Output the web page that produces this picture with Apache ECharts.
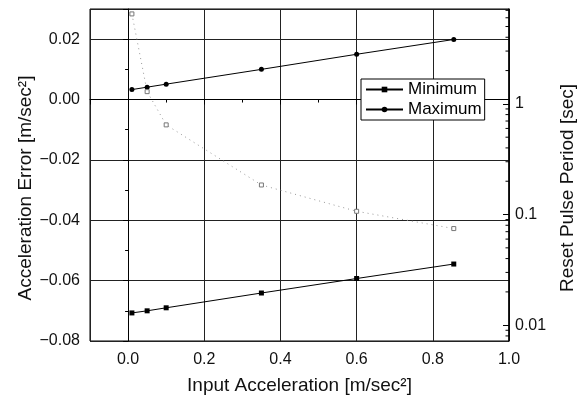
<!DOCTYPE html>
<html>
<head>
<meta charset="utf-8">
<script src="https://cdn.jsdelivr.net/npm/echarts@6/dist/echarts.min.js"></script>
<style>
html,body{margin:0;padding:0;background:#fff;}
#c{width:584px;height:397px;}
</style>
</head>
<body>
<div id="c"></div>
<script>
// Data
var accel = [0.01, 0.05, 0.1, 0.35, 0.6, 0.855];
var minErr = [-0.0707, -0.0700, -0.0690, -0.0641, -0.0593, -0.0545];
var maxErr = [0.0033, 0.0041, 0.0051, 0.0100, 0.0150, 0.0199];
var resetPeriod = [6.5, 1.29, 0.646, 0.185, 0.107, 0.0747];
var seriesNames = ['Minimum', 'Maximum'];
var xName = 'Input Acceleration [m/sec²]';
var yName = 'Acceleration Error [m/sec²]';
var y2Name = 'Reset Pulse Period [sec]';
var logMin = 0.0072, logMax = 7.2;

function pairs(xs, ys) { return xs.map(function (x, i) { return [x, ys[i]]; }); }

var FONT = 'Liberation Sans, Arial, Helvetica, sans-serif';
var chart = echarts.init(document.getElementById('c'), null, {renderer: 'canvas'});
chart.setOption({
  animation: false,
  backgroundColor: '#fff',
  textStyle: {fontFamily: FONT},
  grid: {left: 90, right: 75, top: 9, bottom: 56, containLabel: false, outerBoundsMode: 'none',
    show: true, borderColor: '#000', borderWidth: 1},
  legend: {
    data: seriesNames,
    orient: 'vertical',
    left: 361, top: 79,
    borderColor: '#000', borderWidth: 1, borderRadius: 0,
    backgroundColor: '#fff',
    padding: [1, 3, 1, 4],
    itemGap: 1,
    itemWidth: 37, itemHeight: 7,
    textStyle: {fontSize: 17, lineHeight: 19, color: '#000', fontFamily: FONT}
  },
  xAxis: {
    type: 'value', min: -0.1, max: 1.0,
    name: xName, nameLocation: 'middle', nameGap: 35,
    nameTextStyle: {fontSize: 19, color: '#111', fontFamily: FONT},
    axisLine: {lineStyle: {color: '#000', width: 1}},
    axisTick: {show: true, length: 5, inside: false, lineStyle: {color: '#000'}},
    minorTick: {show: true, splitNumber: 2, length: 3, lineStyle: {color: '#000'}},
    splitLine: {show: true, lineStyle: {color: '#222', width: 1}},
    axisLabel: {showMinLabel: false, showMaxLabel: true, fontSize: 16, color: '#111', margin: 11,
      formatter: function (v) { return v.toFixed(1); }}
  },
  yAxis: [{
    type: 'value', min: -0.08, max: 0.03, interval: 0.02,
    axisLine: {show: true, lineStyle: {color: '#000', width: 1}},
    axisTick: {show: true, length: 5, lineStyle: {color: '#000'}},
    minorTick: {show: true, splitNumber: 2, length: 3, lineStyle: {color: '#000'}},
    splitLine: {show: true, lineStyle: {color: '#222', width: 1}},
    axisLabel: {showMaxLabel: false, fontSize: 16, color: '#111', margin: 10,
      formatter: function (v) { return (v < -1e-9 ? '\u2212' : '') + Math.abs(v).toFixed(2); }}
  }, {
    type: 'log', logBase: 10, min: logMin, max: logMax, position: 'right',
    axisLine: {show: true, lineStyle: {color: '#000', width: 1.5}},
    axisTick: {show: true, inside: true, length: 6, lineStyle: {color: '#000'}},
    minorTick: {show: false},
    splitLine: {show: false},
    axisLabel: {showMinLabel: false, showMaxLabel: false, fontSize: 16, color: '#111', margin: 6}
  }],
  series: [{
    name: 'Minimum', type: 'line', yAxisIndex: 0,
    data: pairs(accel, minErr),
    symbol: 'rect', symbolSize: 5,
    lineStyle: {color: '#000', width: 1},
    itemStyle: {color: '#000'}
  }, {
    name: 'Maximum', type: 'line', yAxisIndex: 0,
    data: pairs(accel, maxErr),
    symbol: 'circle', symbolSize: 5,
    lineStyle: {color: '#000', width: 1},
    itemStyle: {color: '#000'}
  }, {
    name: 'Reset Pulse Period', type: 'line', yAxisIndex: 1,
    data: pairs(accel, resetPeriod),
    symbol: 'rect', symbolSize: 4,
    lineStyle: {color: '#999', width: 1, type: [1, 4]},
    itemStyle: {color: '#fff', borderColor: '#777', borderWidth: 1}
  }]
});

// Log-scale minor ticks (2..9 within each decade) on the right axis, positioned via the axis scale
var xRight = chart.convertToPixel({xAxisIndex: 0}, 1.0);
var graphics = [];
for (var d = -3; d <= 1; d++) {
  for (var k = 2; k <= 9; k++) {
    var v = k * Math.pow(10, d);
    if (v > logMin && v < logMax) {
      var py = chart.convertToPixel({yAxisIndex: 1}, v);
      graphics.push({type: 'line', silent: true,
        shape: {x1: xRight - 3.5, y1: py, x2: xRight, y2: py},
        style: {stroke: '#000', lineWidth: 1}});
    }
  }
}
// Vertical axis titles
graphics.push({type: 'text', x: 26, y: 188, rotation: Math.PI / 2, silent: true,
  style: {text: yName, fill: '#111', font: '19px ' + FONT, align: 'center', verticalAlign: 'middle'}});
graphics.push({type: 'text', x: 568, y: 188, rotation: Math.PI / 2, silent: true,
  style: {text: y2Name, fill: '#111', font: '19px ' + FONT, align: 'center', verticalAlign: 'middle'}});
chart.setOption({graphic: graphics});
</script>
</body>
</html>
